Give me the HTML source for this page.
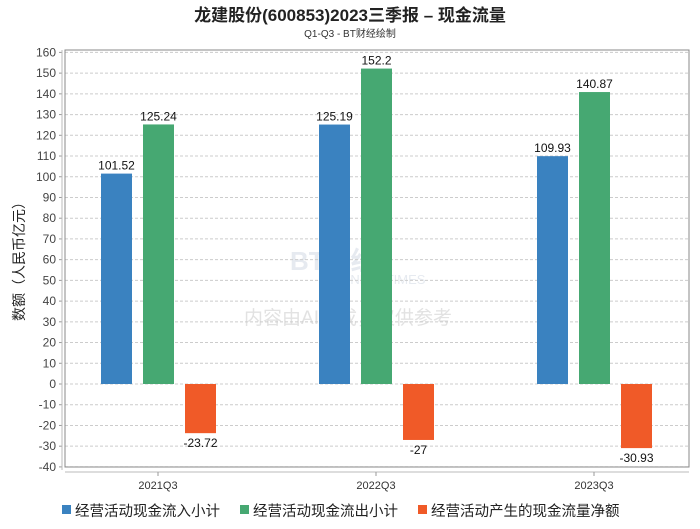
<!DOCTYPE html>
<html><head><meta charset="utf-8"><style>
body{margin:0;background:#fff;}
svg text{font-family:"Liberation Sans","Noto Sans CJK SC",sans-serif;}
</style></head><body>
<svg width="700" height="524" viewBox="0 0 700 524" xmlns="http://www.w3.org/2000/svg">
<text x="350" y="21" text-anchor="middle" font-size="17" font-weight="bold" fill="#222">龙建股份(600853)2023三季报 – 现金流量</text>
<text x="350" y="37" text-anchor="middle" font-size="10" fill="#333">Q1-Q3 - BT财经绘制</text>
<text x="290" y="270" font-size="26" font-weight="bold" fill="#e6eaf0">BT财经</text>
<text x="320" y="284" font-size="13" fill="#e6eaf0">BUSINESSTIMES</text>
<text x="348" y="324" text-anchor="middle" font-size="19" fill="#e2e2e2">内容由AI生成，仅供参考</text>
<g id="grid"></g>
<rect x="65" y="50" width="624" height="417" fill="none" stroke="#888"/>
<line x1="62" y1="50" x2="62" y2="470" stroke="#bbb"/>
<line x1="65" y1="472" x2="689" y2="472" stroke="#bbb"/>
<g id="bars"></g>
<text transform="translate(24,258) rotate(-90)" text-anchor="middle" font-size="14" fill="#222">数额（人民币亿元）</text>
<g id="legend"></g>
</svg>
<script>
const categories=["2021Q3","2022Q3","2023Q3"];
const inflow=[101.52,125.19,109.93];
const outflow=[125.24,152.2,140.87];
const net=[-23.72,-27,-30.93];
const yTicks=[160,150,140,130,120,110,100,90,80,70,60,50,40,30,20,10,0,-10,-20,-30,-40];
const seriesNames=["经营活动现金流入小计","经营活动现金流出小计","经营活动产生的现金流量净额"];
const colors=["#3a82c0","#46a872","#f05a28"];
const NS="http://www.w3.org/2000/svg";
const y=v=>384-v*2.0725;
const xc=i=>158+i*218;
function mk(t,a,p){const e=document.createElementNS(NS,t);for(const k in a)e.setAttribute(k,a[k]);p.appendChild(e);return e;}
const grid=document.getElementById('grid');
yTicks.forEach(v=>{
  const l=mk('line',{x1:65,x2:689,y1:y(v),y2:y(v),stroke:'#ccc','stroke-dasharray':'3,2'},grid);
  
  
  const tk=mk('line',{x1:59,x2:62,y1:y(v),y2:y(v),stroke:'#999'},grid);
  
  
  const t=mk('text',{x:56,y:y(v)+4,'text-anchor':'end','font-size':12,fill:'#444'},grid);
  t.textContent=v;
  
  
});
const bars=document.getElementById('bars');
const series=[inflow,outflow,net];
const offs=[-57,-15,27];
categories.forEach((c,i)=>{
  const t=mk('text',{x:xc(i),y:489,'text-anchor':'middle','font-size':11,fill:'#333'},bars);
  t.textContent=c;
  
  
  const tk=mk('line',{x1:xc(i),x2:xc(i),y1:472,y2:476,stroke:'#999'},bars);
  
  
  series.forEach((s,j)=>{
    const v=s[i],x0=xc(i)+offs[j];
    const top=Math.min(y(v),y(0)),h=Math.abs(y(v)-y(0));
    const r=mk('rect',{x:x0,y:top,width:31,height:h,fill:colors[j]},bars);
    
    
    const lb=mk('text',{x:x0+15.5,y:v>=0?y(v)-4:y(v)+14,'text-anchor':'middle','font-size':12,fill:'#111'},bars);
    lb.textContent=v;
    
    
  });
});
const lg=document.getElementById('legend');
const lx=[62,240,418];
seriesNames.forEach((n,j)=>{
  const r=mk('rect',{x:lx[j],y:505,width:9,height:9,fill:colors[j]},lg);
  
  
  const t=mk('text',{x:lx[j]+13,y:516,'font-size':14.5,fill:'#222'},lg);
  t.textContent=n;
  
  
});
</script>
</body></html>
